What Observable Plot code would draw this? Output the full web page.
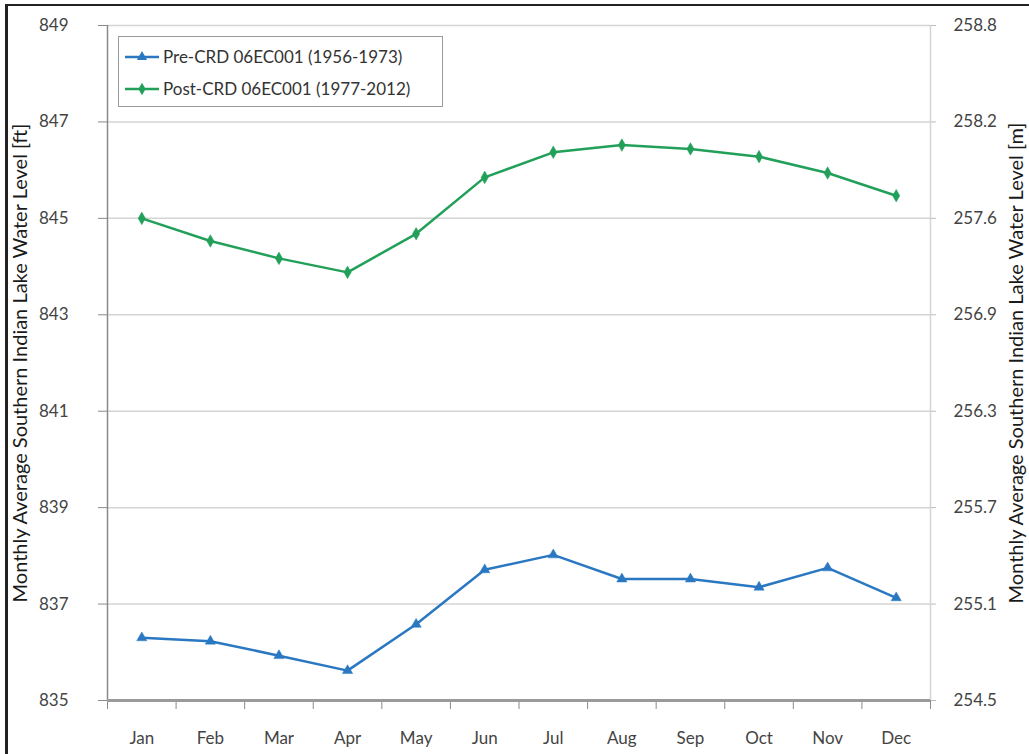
<!DOCTYPE html>
<html>
<head>
<meta charset="utf-8">
<script src="https://cdn.jsdelivr.net/npm/d3@7"></script>
<script src="https://cdn.jsdelivr.net/npm/@observablehq/plot@0.6"></script>
<style>
  html, body { margin: 0; padding: 0; background: #fff; }
  #wrap { position: relative; width: 1029px; height: 754px; overflow: hidden; background: #fff; font-family: Lato, "Open Sans", sans-serif; }
  #frameTop { position: absolute; left: 5px; top: 4px; width: 1024px; height: 2px; background: #222; }
  #frameLeft { position: absolute; left: 5px; top: 4px; width: 3px; height: 750px; background: #222; }
  #legend { position: absolute; left: 118px; top: 36px; width: 325px; height: 71px; border: 1px solid #9a9a9a; background: #fff; box-sizing: border-box; }
  .item { position: absolute; left: 6px; display: flex; align-items: center; font-size: 17px; color: #333; white-space: nowrap; }
  .item svg { margin-right: 4px; }
</style>
</head>
<body>
<div id="wrap">
  <div id="chart"></div>
  <div id="legend"></div>
  <div id="frameTop"></div>
  <div id="frameLeft"></div>
</div>
<script>
// ---- data ----
const months = ["Jan", "Feb", "Mar", "Apr", "May", "Jun", "Jul", "Aug", "Sep", "Oct", "Nov", "Dec"];
const seriesNames = ["Pre-CRD 06EC001 (1956-1973)", "Post-CRD 06EC001 (1977-2012)"];
const preCRD = [836.30, 836.23, 835.93, 835.62, 836.58, 837.71, 838.02, 837.52, 837.52, 837.35, 837.75, 837.13];
const postCRD = [845.00, 844.53, 844.17, 843.88, 844.68, 845.85, 846.37, 846.52, 846.44, 846.28, 845.94, 845.47];
const ftTicks = [835, 837, 839, 841, 843, 845, 847, 849];
const mTickLabels = ["254.5", "255.1", "255.7", "256.3", "256.9", "257.6", "258.2", "258.8"];
const leftTitle = "Monthly Average Southern Indian Lake Water Level [ft]";
const rightTitle = "Monthly Average Southern Indian Lake Water Level [m]";

const colors = ["#2a78c2", "#22a05a"];
const symbols = ["triangle", "diamond"];

const rows = [];
[preCRD, postCRD].forEach((vals, s) => vals.forEach((v, i) => rows.push({series: seriesNames[s], i, v})));
const centers = months.map((m, i) => i);
const bounds = d3.range(months.length + 1).map(i => i - 0.5);

const font = "Lato, 'Open Sans', sans-serif";

const chart = Plot.plot({
  width: 1029,
  height: 754,
  marginLeft: 107,
  marginRight: 99,
  marginTop: 25,
  marginBottom: 54,
  style: {fontFamily: font, background: "#fff", overflow: "visible"},
  x: {type: "linear", domain: [-0.5, 11.5], axis: null},
  y: {type: "linear", domain: [835, 849], axis: null},
  color: {domain: seriesNames, range: colors},
  symbol: {domain: seriesNames, range: symbols},
  marks: [
    Plot.gridY(ftTicks.slice(1), {stroke: "#d4d4d4", strokeOpacity: 1, strokeWidth: 1.5}),
    Plot.ruleX([11.5], {stroke: "#d4d4d4", strokeWidth: 1.5}),
    Plot.ruleX([-0.5], {stroke: "#8a8a8a", strokeWidth: 1.5}),
    Plot.axisY(ftTicks, {anchor: "left", label: null, tickSize: 9, tickPadding: 30, fontSize: 17, color: "#444", stroke: "#8a8a8a", tickFormat: d => String(d)}),
    Plot.axisY(ftTicks, {anchor: "right", label: null, tickSize: 5, tickPadding: 18, fontSize: 17, color: "#444", stroke: "#bbb", tickFormat: d => mTickLabels[ftTicks.indexOf(d)]}),
    Plot.axisX(bounds, {anchor: "bottom", label: null, tickSize: 9, stroke: "#8a8a8a", tickFormat: () => ""}),
    Plot.axisX(centers, {anchor: "bottom", label: null, tickSize: 0, tickPadding: 31, fontSize: 17, color: "#444", tickFormat: i => months[i]}),
    Plot.ruleY([835], {stroke: "#9a9a9a", strokeWidth: 3}),
    Plot.line(rows, {x: "i", y: "v", z: "series", stroke: "series", strokeWidth: 2.5}),
    Plot.dot(rows, {x: "i", y: "v", symbol: "series", fill: "series", stroke: "series", strokeWidth: 0.5, r: 3.8}),
    Plot.text([leftTitle], {frameAnchor: "left", textAnchor: "middle", dx: -87, rotate: -90, fontSize: 20, fill: "#1a1a1a", text: d => d}),
    Plot.text([rightTitle], {frameAnchor: "right", textAnchor: "middle", dx: 86, rotate: -90, fontSize: 20, fill: "#1a1a1a", text: d => d})
  ]
});
document.getElementById("chart").appendChild(chart);

// ---- legend ----
const legend = document.getElementById("legend");
seriesNames.forEach((name, s) => {
  const item = document.createElement("div");
  item.className = "item";
  item.style.top = (s === 0 ? 9 : 41) + "px";
  const sym = d3.symbol(s === 0 ? d3.symbolTriangle : d3.symbolDiamond, 45)();
  item.innerHTML = `<svg width="34" height="14"><line x1="0" y1="7" x2="34" y2="7" stroke="${colors[s]}" stroke-width="2.5"/><path d="${sym}" transform="translate(17,7)" fill="${colors[s]}"/></svg><span></span>`;
  item.querySelector("span").textContent = name;
  legend.appendChild(item);
});
</script>
</body>
</html>
